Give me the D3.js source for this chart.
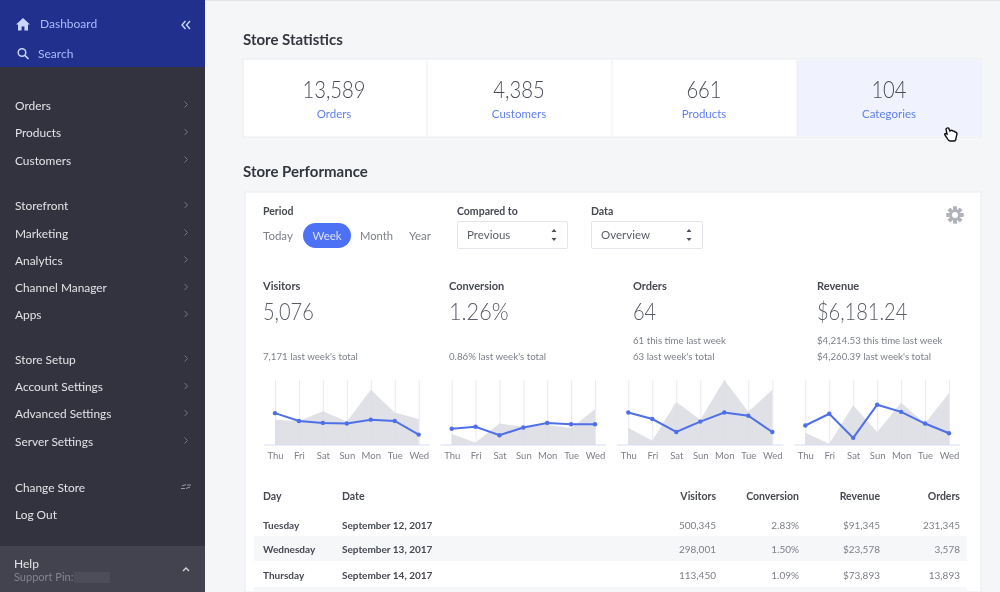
<!DOCTYPE html>
<html>
<head>
<meta charset="utf-8">
<script src="https://cdn.jsdelivr.net/npm/d3@7"></script>
<style>
html,body{margin:0;padding:0;background:#f5f6f8;overflow:hidden;}
svg{display:block;filter:blur(0.35px);}
text{font-family:Lato,"Open Sans",sans-serif;}
</style>
</head>
<body>
<svg id="page" width="1000" height="592"></svg>
<script>
// chart data (0-100 = height of the plot)
var days=['Thu','Fri','Sat','Sun','Mon','Tue','Wed'];
var visitorsPrev=[39,37,52,36,85,50,40];
var visitorsNow=[49,37,34,33,39,37,16];
var conversionPrev=[17,4,33,28,31,26,55];
var conversionNow=[25,28,15,27,34,32,32];
var ordersPrev=[26,7,66,39,100,51,85];
var ordersNow=[50,40,20,36,50,45,20];
var revenuePrev=[19,2,61,20,65,33,80];
var revenueNow=[30,48,11,62,51,33,18];

var statValues=['13,589','4,385','661','104'];
var statLabels=['Orders','Customers','Products','Categories'];

var metricNames=['Visitors','Conversion','Orders','Revenue'];
var metricValues=['5,076','1.26%','64','$6,181.24'];
var metricNotesA=['','','61 this time last week','$4,214.53 this time last week'];
var metricNotesB=["7,171 last week's total","0.86% last week's total","63 last week's total","$4,260.39 last week's total"];

var tableDays=['Tuesday','Wednesday','Thursday'];
var tableDates=['September 12, 2017','September 13, 2017','September 14, 2017'];
var tableVisitors=['500,345','298,001','113,450'];
var tableConversion=['2.83%','1.50%','1.09%'];
var tableRevenue=['$91,345','$23,578','$73,893'];
var tableOrders=['231,345','3,578','13,893'];

var navGroups=[
	['Orders','Products','Customers'],
	['Storefront','Marketing','Analytics','Channel Manager','Apps'],
	['Store Setup','Account Settings','Advanced Settings','Server Settings']
];
var navBottom=['Change Store','Log Out'];

var svg=d3.select('#page');

function txt(g,x,y,s,size,color,weight,anchor){
	return g.append('text').attr('x',x).attr('y',y).text(s)
		.attr('font-size',size).attr('fill',color)
		.attr('font-weight',weight||400)
		.attr('text-anchor',anchor||'start');
}
// Lato digits run wider than the original font, pull the big numbers in
function squeeze(t,k){
	var w=t.node().getComputedTextLength();
	t.attr('textLength',w*k).attr('lengthAdjust','spacingAndGlyphs');
	return t;
}
function rect(g,x,y,w,h,fill){
	return g.append('rect').attr('x',x).attr('y',y).attr('width',w).attr('height',h).attr('fill',fill);
}
function chevron(g,x,y,color){
	g.append('path').attr('d','M'+(x-1.5)+','+(y-3)+'l3,3l-3,3').attr('fill','none').attr('stroke',color).attr('stroke-width',1);
}

/* ---------- sidebar ---------- */
var side=svg.append('g');
rect(side,0,0,205,592,'#33323f');
rect(side,0,0,205,67,'#21308c');
rect(side,0,546,205,46,'#43424f');

side.append('path').attr('d','M23,18l-7,6.5h2v6h3.6v-4h2.8v4h3.6v-6h2z').attr('fill','#c9d6ff');
txt(side,40,28,'Dashboard',12,'#a9bcff');
txt(side,38,58,'Search',12,'#a9bcff');
side.append('circle').attr('cx',22).attr('cy',52.5).attr('r',3.8).attr('fill','none').attr('stroke','#c9d6ff').attr('stroke-width',1.5);
side.append('path').attr('d','M25,55.5l3.5,3.5').attr('stroke','#c9d6ff').attr('stroke-width',1.7);
side.append('path').attr('d','M185.5,21l-3.5,4l3.5,4M190,21l-3.5,4l3.5,4').attr('fill','none').attr('stroke','#c9d6ff').attr('stroke-width',1.4);

var navY=[[109.5,137,164.5],[210,237.5,264.5,292,319],[363.5,391,418,445.5]];
navGroups.forEach(function(items,i){
	items.forEach(function(name,j){
		txt(side,15,navY[i][j],name,11.9,'#e3e3e8');
		chevron(side,186,navY[i][j]-5,'#77767f');
	});
});
txt(side,15,491.5,navBottom[0],11.9,'#e3e3e8');
txt(side,15,518.5,navBottom[1],11.9,'#e3e3e8');
side.append('path').attr('d','M182,486l4,-1.5M187,485h4M181,488.5h4M186,488.5l4,-1.5').attr('stroke','#9a9aa3').attr('stroke-width',1);
txt(side,14,568,'Help',12,'#e3e3e8');
txt(side,14,581,'Support Pin:',11,'#85848f');
rect(side,74,572,36,11,'#4d4c59');
side.append('path').attr('d','M183,571l3,-3l3,3').attr('fill','none').attr('stroke','#d5d5da').attr('stroke-width',1.4);

/* ---------- store statistics ---------- */
rect(svg,205,0,795,1,'#e3e4e8');
txt(svg,243,45,'Store Statistics',15,'#33363f',700);
var stats=svg.append('g');
rect(stats,243,59,738,78,'#ffffff').attr('stroke','#e9ebf0');
rect(stats,797,60,184,76,'#f0f3fd');
var statX=d3.scalePoint().domain(statLabels).range([334,889]);
statLabels.forEach(function(l,i){
	var cx=statX(l);
	squeeze(txt(stats,cx,98,statValues[i],23,'#4a4d57',300,'middle'),0.88);
	txt(stats,cx,118,l,11.5,'#5f80ee',400,'middle');
});
[427,612,797].forEach(function(x){
	stats.append('line').attr('x1',x).attr('x2',x).attr('y1',60).attr('y2',136).attr('stroke','#eceef2');
});
// cursor
svg.append('path').attr('d','M946,129c1,-2 3,-1 3,0l1,2c1,-1 2,-1 3,0c1,0 2,0 2,1c1,0 2,1 2,2l-1,4c0,2 -1,3 -2,3h-4c-1,0 -2,-1 -3,-3l-2,-3c-1,-1 0,-2 2,-1z')
	.attr('fill','#fff').attr('stroke','#111').attr('stroke-width',1.4);

/* ---------- store performance ---------- */
txt(svg,243,177,'Store Performance',15,'#33363f',700);
rect(svg,245,192,736,400,'#ffffff').attr('stroke','#e9ebf0');
var perf=svg.append('g');

txt(perf,263,215,'Period',10.5,'#464952',700);
txt(perf,457,215,'Compared to',10.5,'#464952',700);
txt(perf,591,215,'Data',10.5,'#464952',700);

txt(perf,263,240,'Today',11.5,'#7d808a');
perf.append('rect').attr('x',303).attr('y',223).attr('width',48).attr('height',25).attr('rx',12.5).attr('fill','#4c71f4');
txt(perf,327,240,'Week',11.5,'#d6e0ff',400,'middle');
txt(perf,360,240,'Month',11.2,'#7d808a');
txt(perf,409,240,'Year',11.5,'#7d808a');

function selectBox(x,w,label){
	perf.append('rect').attr('x',x+.5).attr('y',221.5).attr('width',w).attr('height',27).attr('rx',1.5).attr('fill','#fff').attr('stroke','#e3e5ea');
	txt(perf,x+10,239,label,11.5,'#5b5e68');
	var ax=x+w-13;
	perf.append('path').attr('d','M'+(ax-2.5)+',232l2.5,-3l2.5,3zM'+(ax-2.5)+',238l2.5,3l2.5,-3z').attr('fill','#4a4d57');
}
selectBox(457,110,'Previous');
selectBox(591,111,'Overview');

// gear
var gear=perf.append('g').attr('transform','translate(955,215)');
d3.range(8).forEach(function(i){
	gear.append('rect').attr('x',-1.8).attr('y',-8.5).attr('width',3.6).attr('height',17).attr('fill','#b0b3ba').attr('transform','rotate('+(i*45)+')');
});
gear.append('circle').attr('r',5.3).attr('fill','#b0b3ba');
gear.append('circle').attr('r',3).attr('fill','#fff');

var metricX=[263,449,633,817];
metricNames.forEach(function(n,i){
	txt(perf,metricX[i],290,n,11,'#464952',700);
	squeeze(txt(perf,metricX[i],320,metricValues[i],23,'#5a5d67',300),i==1?0.94:0.87);
	if(metricNotesA[i]) txt(perf,metricX[i],343.5,metricNotesA[i],9.7,'#7d808a');
	txt(perf,metricX[i],359.5,metricNotesB[i],9.7,'#7d808a');
});

/* ---------- small charts ---------- */
var y=d3.scaleLinear().domain([0,100]).range([445,380]);
var charts=[
	{left:275,right:418.7,prev:visitorsPrev,now:visitorsNow},
	{left:451.7,right:595,prev:conversionPrev,now:conversionNow},
	{left:628.3,right:772.3,prev:ordersPrev,now:ordersNow},
	{left:805.3,right:949,prev:revenuePrev,now:revenueNow}
];
charts.forEach(function(c){
	var x=d3.scalePoint().domain(days).range([c.left,c.right]);
	var g=svg.append('g');

	var axis=g.append('g').attr('transform','translate(0,445)')
		.call(d3.axisBottom(x).tickSize(-65).tickPadding(7));
	axis.select('.domain').remove();
	axis.selectAll('line').attr('stroke','#e8eaf2');
	axis.selectAll('text').attr('font-size',9.5).attr('fill','#7d808a').attr('font-family','Lato,sans-serif');

	g.append('path').attr('d',d3.area().x(function(d,i){return x(days[i]);}).y0(y(0)).y1(function(d){return y(d);})(c.prev))
		.attr('fill','#d9dce2').attr('fill-opacity',0.85);
	g.append('line').attr('x1',c.left-11).attr('x2',c.right+11).attr('y1',445).attr('y2',445).attr('stroke','#d6dcf6');
	g.append('path').attr('d',d3.line().x(function(d,i){return x(days[i]);}).y(function(d){return y(d);})(c.now))
		.attr('fill','none').attr('stroke','#4f6fe8').attr('stroke-width',2);
	g.selectAll('.pt').data(c.now).enter().append('circle').attr('class','pt')
		.attr('cx',function(d,i){return x(days[i]);}).attr('cy',function(d){return y(d);}).attr('r',2.2).attr('fill','#4f6fe8');
});

/* ---------- table ---------- */
var table=svg.append('g');
rect(table,254,536,713,25,'#f6f7f9');
rect(table,254,587,713,5,'#f6f7f9');
var rowY=[529,553,579];
var colRight=[716,799,880,960];
var headers=['Visitors','Conversion','Revenue','Orders'];
var cols=[tableVisitors,tableConversion,tableRevenue,tableOrders];
txt(table,263,500,'Day',10.5,'#464952',700);
txt(table,342,500,'Date',10.5,'#464952',700);
headers.forEach(function(h,i){ txt(table,colRight[i],500,h,10.5,'#464952',700,'end'); });
tableDays.forEach(function(d,r){
	txt(table,263,rowY[r],d,10,'#464952',700);
	txt(table,342,rowY[r],tableDates[r],10,'#464952',700);
	cols.forEach(function(col,i){ txt(table,colRight[i],rowY[r],col[r],10,'#7d808a',400,'end'); });
});
</script>
</body>
</html>
